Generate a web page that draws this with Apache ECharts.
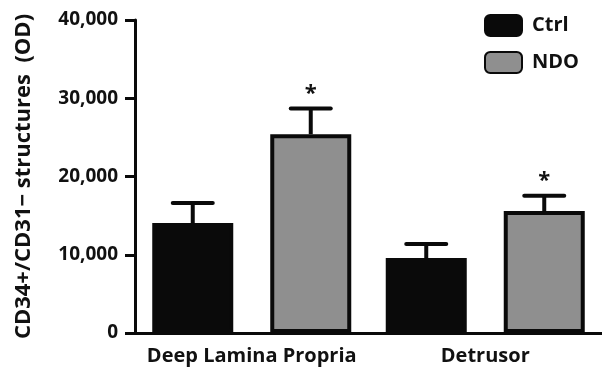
<!DOCTYPE html>
<html>
<head>
<meta charset="utf-8">
<style>
  html, body { margin: 0; padding: 0; background: #fff; }
  #chart { width: 602px; height: 375px; }
</style>
<script src="https://cdn.jsdelivr.net/npm/echarts@6/dist/echarts.min.js"></script>
</head>
<body>
<div id="chart"></div>
<script>
/* ===== data ===== */
const categories = ["Deep Lamina Propria", "Detrusor"];
const ctrlMean = [14050, 9580];
const ctrlErr = [2550, 1800];
const ndoMean = [25400, 15580];
const ndoErr = [3300, 1950];
const ndoSig = [true, true];
const yTicks = [0, 10000, 20000, 30000, 40000];

/* ===== style ===== */
const FONT = "'Open Sans', 'Liberation Sans', sans-serif";
const BAR_W = 81;
const BAR_GAP = 37;
const OFFSET = (BAR_W + BAR_GAP) / 2;

function errorSeries(name, means, errs, dx, sig) {
    return {
        type: "custom",
        name: name + "-err",
        z: 5,
        data: means.map((m, i) => [i, m, m + errs[i], sig && sig[i] ? 1 : 0]),
        encode: { x: 0, y: 1 },
        renderItem(params, api) {
            const base = api.coord([api.value(0), api.value(1)]);
            const top = api.coord([api.value(0), api.value(2)]);
            const x = base[0] + dx;
            const children = [
                { type: "line", shape: { x1: x, y1: base[1], x2: x, y2: top[1] },
                  style: { stroke: "#0a0a0a", lineWidth: 4 } },
                { type: "line", shape: { x1: x - 20, y1: top[1], x2: x + 20, y2: top[1] },
                  style: { stroke: "#0a0a0a", lineWidth: 4, lineCap: "round" } },
            ];
            if (api.value(3)) {
                children.push({
                    type: "text",
                    style: { x: x, y: top[1] - 4, text: "*", fill: "#111",
                             font: "bold 22px " + FONT, align: "center", verticalAlign: "bottom" },
                });
            }
            return { type: "group", children };
        },
    };
}

const chart = echarts.init(document.getElementById("chart"));
chart.setOption({
    animation: false,
    grid: { left: 135, right: -4, top: 20, bottom: 42 },
    legend: {
        orient: "vertical",
        left: 479, top: 9,
        itemWidth: 37, itemHeight: 21, itemGap: 14,
        icon: "roundRect",
        data: ["Ctrl", "NDO"],
        textStyle: { fontFamily: FONT, fontWeight: "bold", fontSize: 20, color: "#111", padding: [0, 0, 0, 5] },
    },
    xAxis: {
        type: "category",
        data: categories,
        axisLine: { lineStyle: { color: "#0a0a0a", width: 3 } },
        axisTick: { show: false },
        axisLabel: { interval: 0, fontFamily: FONT, fontWeight: "bold", fontSize: 20, color: "#111", margin: 13 },
    },
    yAxis: {
        type: "value",
        min: yTicks[0], max: yTicks[yTicks.length - 1], interval: yTicks[1] - yTicks[0],
        name: "CD34+/CD31\u2212 structures  (OD)",
        nameLocation: "middle", nameRotate: 90, nameGap: 100,
        nameTextStyle: { fontFamily: FONT, fontWeight: "bold", fontSize: 22, color: "#111" },
        axisLine: { show: true, lineStyle: { color: "#0a0a0a", width: 3 } },
        axisTick: { show: true, length: 10, lineStyle: { color: "#0a0a0a", width: 3 } },
        splitLine: { show: false },
        axisLabel: {
            fontFamily: FONT, fontWeight: "bold", fontSize: 19, color: "#111", margin: 17,
            formatter: v => v.toLocaleString("en-US"),
        },
    },
    series: [
        {
            type: "bar", name: "Ctrl", data: ctrlMean,
            barWidth: BAR_W, barGap: (BAR_GAP / BAR_W * 100) + "%",
            itemStyle: { color: "#0a0a0a", borderColor: "#0a0a0a", borderWidth: 4 },
        },
        {
            type: "bar", name: "NDO", data: ndoMean,
            barWidth: BAR_W,
            itemStyle: { color: "#8f8f8f", borderColor: "#0a0a0a", borderWidth: 4 },
        },
        errorSeries("Ctrl", ctrlMean, ctrlErr, -OFFSET, null),
        errorSeries("NDO", ndoMean, ndoErr, OFFSET, ndoSig),
    ],
});
</script>
</body>
</html>
